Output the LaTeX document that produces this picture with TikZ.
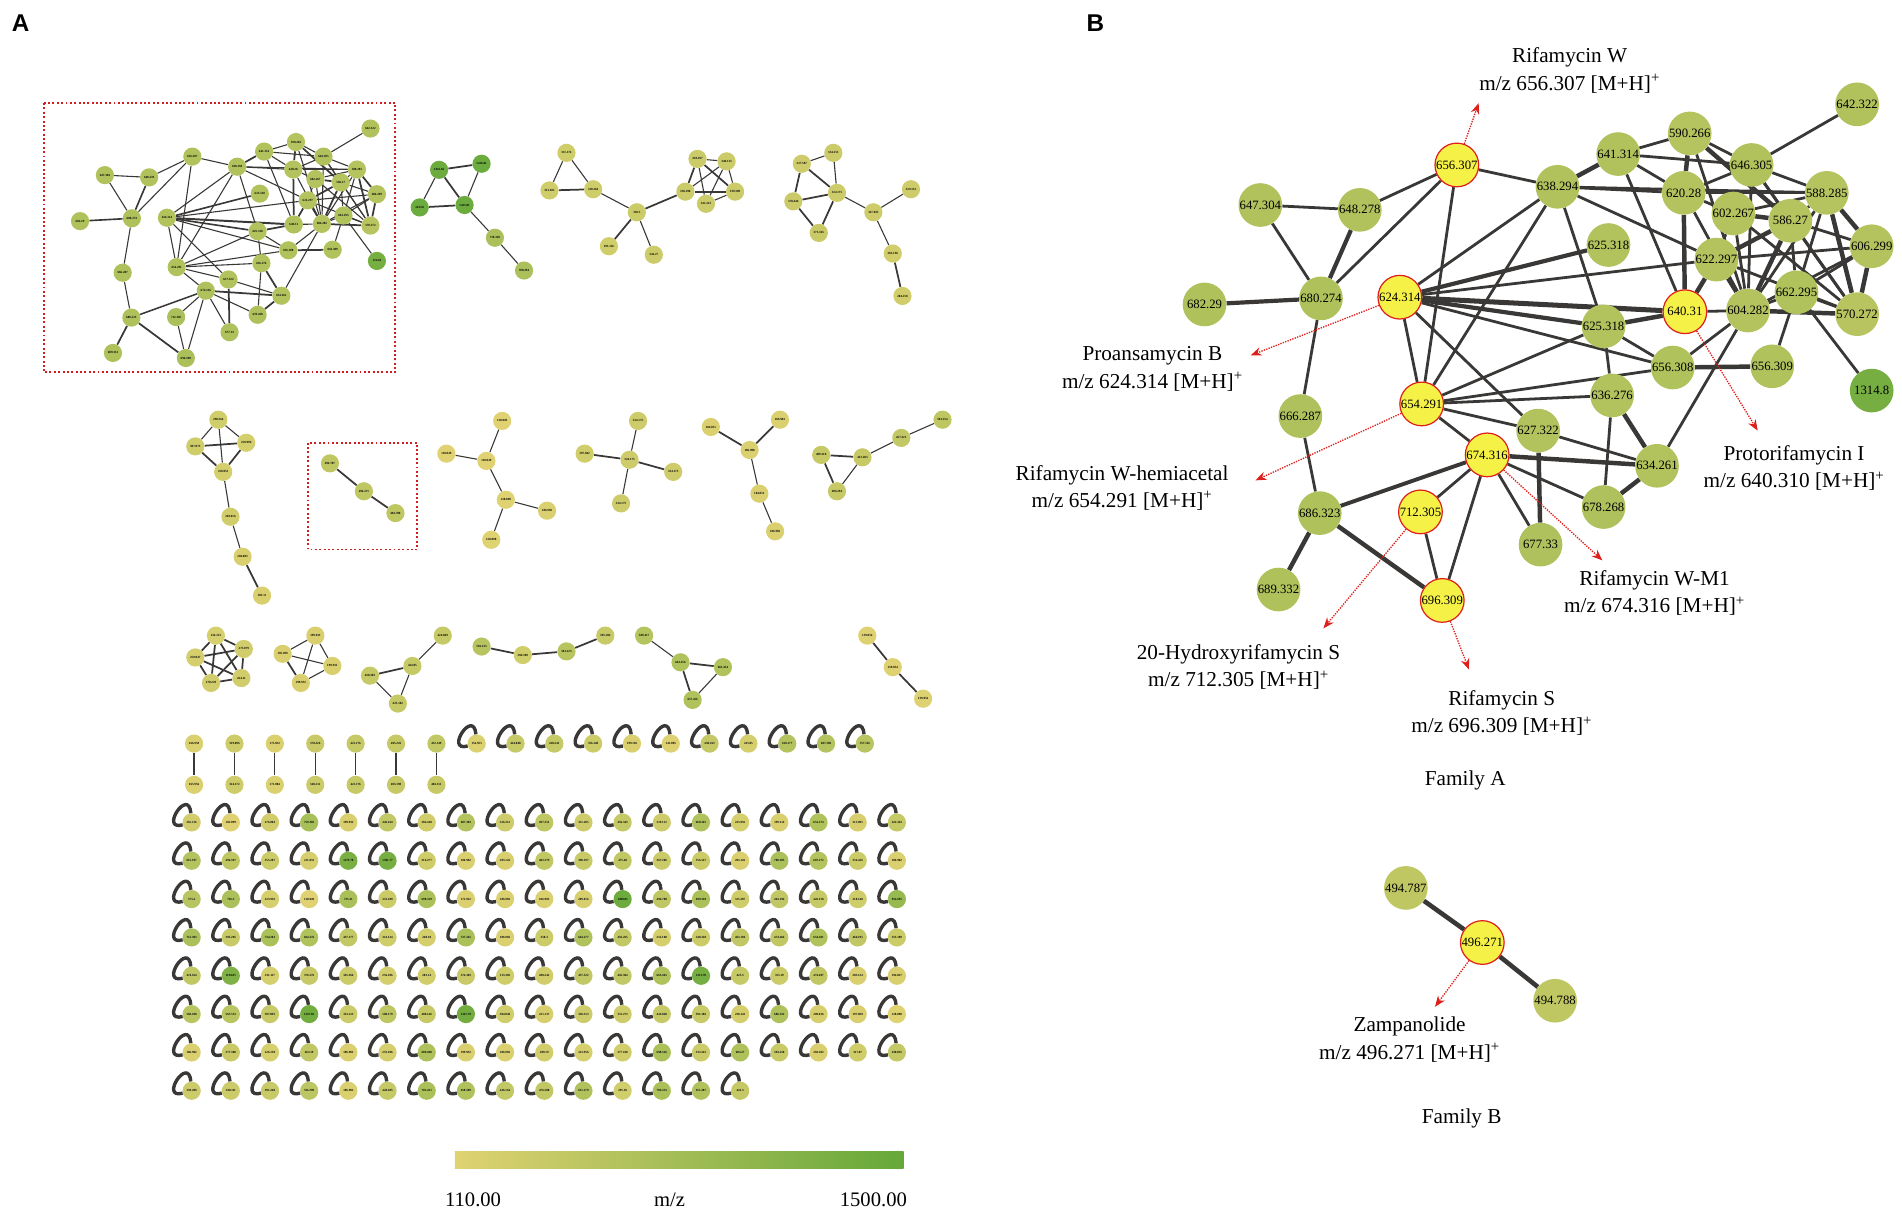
\documentclass[tikz,border=0pt]{standalone}
\usepackage{fontspec}
\setmainfont{Liberation Serif}
\newfontfamily\panelfont{Liberation Sans}
\usetikzlibrary{positioning,arrows.meta}

\definecolor{mzlow}{RGB}{224,210,114}
\definecolor{mzhigh}{RGB}{101,168,58}
\definecolor{hitfill}{RGB}{245,241,70}
\definecolor{hitline}{RGB}{222,32,28}
\definecolor{edgegray}{RGB}{58,56,54}
\definecolor{boxred}{RGB}{208,30,30}

\pgfdeclarelayer{edgelayer}
\pgfsetlayers{edgelayer,main}

\tikzset{
  bignode/.style={circle, minimum size=36pt, inner sep=0pt, font=\fontsize{10.5}{10.5}\selectfont},
  bighit/.style={bignode, fill=hitfill, draw=hitline, line width=1pt},
  tinynode/.style={circle, minimum size=15pt, inner sep=0pt, font=\fontsize{2.6}{3}\selectfont\bfseries},
  pointer/.style={draw=hitline, densely dotted, line width=1.1pt, -{Stealth[length=9pt,width=7pt]}},
  cmpd/.style={align=center, font=\fontsize{17.5}{22.5}\selectfont},
  selfloop/.style={draw=edgegray, line width=2.8pt},
  hilite/.style={draw=boxred, dotted, line width=1.6pt},
  letter/.style={font=\panelfont\bfseries\fontsize{20}{20}\selectfont},
}

% family A: name/x/y/label/hit
\def\famAnodes{m656307/1201/136/656.307/1, m638294/1284/154/638.294/0,
  m641314/1334/127/641.314/0, m590266/1393/110/590.266/0,
  m646305/1444/136/646.305/0, m642322/1531/86/642.322/0,
  m620280/1388/159/620.28/0, m588285/1506/159/588.285/0,
  m602267/1429/176/602.267/0, m586270/1476/182/586.27/0,
  m606299/1543/203/606.299/0, m622297/1415/214/622.297/0,
  m625318/1326/202/625.318/0, m647304/1039/169/647.304/0,
  m648278/1121/173/648.278/0, m682290/993/251/682.29/0,
  m680274/1089/246/680.274/0, m624314/1154/245/624.314/1,
  m640310/1389/257/640.31/1, m604282/1441/256/604.282/0,
  m662295/1481/241/662.295/0, m570272/1531/259/570.272/0,
  m625318b/1322/269/625.318/0, m656308/1379/303/656.308/0,
  m656309/1461/302/656.309/0, m1314/1543/322/1314.8/0,
  m666287/1072/343/666.287/0, m654291/1172/333/654.291/1,
  m636276/1329/326/636.276/0, m627322/1268/355/627.322/0,
  m674316/1226/375/674.316/1, m634261/1366/384/634.261/0,
  m678268/1322/418/678.268/0, m712305/1171/422/712.305/1,
  m686323/1088/423/686.323/0, m677330/1270/449/677.33/0,
  m689332/1054/486/689.332/0, m696309/1189/495/696.309/1}

% family A: from/to/weight
\def\famAedges{m647304/m648278/1, m647304/m680274/1, m648278/m680274/1.5,
  m648278/m656307/1, m656307/m680274/1, m682290/m680274/1.5,
  m680274/m666287/1, m666287/m686323/1, m686323/m689332/1.6,
  m686323/m696309/1.6, m686323/m674316/1.4, m656307/m638294/1,
  m656307/m654291/1, m624314/m638294/1, m624314/m625318/1.5,
  m624314/m622297/1, m624314/m640310/1.8, m624314/m625318b/1.5,
  m624314/m656308/1, m624314/m627322/1, m624314/m654291/1,
  m654291/m638294/1, m654291/m625318b/1, m654291/m656308/1,
  m654291/m636276/1, m654291/m627322/1, m654291/m674316/1,
  m638294/m641314/1.6, m638294/m620280/1, m638294/m588285/1,
  m638294/m622297/1, m638294/m625318b/1, m641314/m590266/1,
  m641314/m646305/1, m641314/m620280/1, m641314/m640310/1,
  m590266/m620280/1.6, m590266/m646305/1, m590266/m586270/1.6,
  m590266/m604282/1, m646305/m642322/1, m646305/m588285/1,
  m646305/m620280/1, m646305/m586270/1, m646305/m604282/1,
  m646305/m570272/1, m620280/m640310/1.6, m620280/m588285/1,
  m620280/m602267/1, m620280/m604282/1, m602267/m586270/1.6,
  m602267/m588285/1, m602267/m622297/1, m602267/m604282/1,
  m602267/m570272/1, m586270/m588285/1, m586270/m622297/1.6,
  m586270/m604282/1.6, m586270/m606299/1, m586270/m570272/1,
  m586270/m662295/1, m588285/m606299/1.6, m588285/m570272/1.6,
  m588285/m604282/1, m588285/m662295/1, m606299/m570272/1.6,
  m606299/m622297/1, m606299/m604282/1, m606299/m662295/1,
  m622297/m640310/1.6, m622297/m604282/1.6, m622297/m570272/1,
  m604282/m640310/1, m604282/m662295/1, m604282/m570272/1.6,
  m604282/m656308/1, m604282/m634261/1, m662295/m570272/1,
  m662295/m656309/1, m662295/m1314/1, m640310/m625318b/1.6,
  m625318b/m656308/1, m625318b/m636276/1, m656308/m656309/1.6,
  m636276/m634261/1.6, m636276/m678268/1, m627322/m634261/1,
  m627322/m677330/1.6, m674316/m634261/1.6, m674316/m678268/1,
  m674316/m677330/1, m674316/m712305/1, m674316/m696309/1,
  m712305/m696309/1, m678268/m634261/1.6}

% other small networks of panel A
\def\smallnodes{g1/362/140/1416.82, g2/397/135/1416.81, g3/346/171/1423.8,
  g4/383/169/1423.81, g5/408/196/718.318, g6/432/223/708.294,
  h1/467/126/311.174, h2/453/157/313.181, h3/489/156/310.264,
  h4/525/175/358.3, h5/502/203/295.126, h6/539/210/344.27,
  h7/565/158/338.298, h8/575/131/338.297, h9/599/133/340.313,
  h10/606/158/339.309, h11/582/168/341.223,
  k1/661/135/327.587, k2/687/126/334.253, k3/690/159/324.175,
  k4/654/166/370.444, k5/675/192/375.365, k6/720/175/327.033,
  k7/751/156/329.132, k8/736/209/283.196, k9/744/244/284.258,
  l1/180/346/298.264, l2/161/368/307.073, l3/203/365/250.996,
  l4/184/389/250.053, l5/190/426/269.016, l6/200/459/204.083,
  l7/216/491/205.11,
  f1/272/382/494.787, f2/300/405/496.271, f3/326/423/494.788,
  o1/414/347/110.049, o2/368/374/110.049, o3/401/380/110.049,
  o4/417/412/128.898, o5/451/421/186.902, o6/405/445/128.898,
  p1/526/347/324.175, p2/482/374/297.042, p3/519/379/324.175,
  p4/555/389/324.175, p5/512/415/324.175,
  q1/586/352/184.051, q2/643/346/186.902, q3/618/371/186.908,
  q4/626/407/184.051, q5/639/438/186.902,
  r1/777/346/501.354, r2/743/361/457.321, r3/711/377/413.283,
  r4/677/375/409.218, r5/690/405/406.294,
  s1/178/524/234.213, s2/201/535/273.079, s3/161/542/259.047,
  s4/199/559/264.11, s5/174/563/270.229,
  t1/260/524/199.933, t2/233/539/195.039, t3/274/549/199.931,
  t4/248/563/199.932,
  u1/365/524/424.049, u2/340/549/424.05, u3/305/557/428.303,
  u4/328/580/425.182,
  v1/397/533/581.223, v2/431/540/304.309, v3/467/537/581.223,
  v4/499/524/395.184,
  w1/531/524/589.417, w2/561/546/663.456, w3/596/550/663.454,
  w4/571/577/657.456,
  z1/715/524/139.054, z2/736/550/139.054, z3/761/576/139.054}

\def\smalledges{g1/g2/1.6, g1/g3/1, g1/g4/1.6, g2/g4/1, g3/g4/1.6, g4/g5/1,
  g5/g6/1, h1/h2/1, h1/h3/1, h2/h3/1.6, h3/h4/1, h4/h5/1.6, h4/h6/1,
  h4/h7/1.6, h7/h8/1.6, h8/h9/1, h8/h11/1, h8/h10/1.6, h9/h7/1, h9/h11/1,
  h9/h10/1, h7/h10/1.6, h11/h10/1,
  k1/k2/1, k1/k4/1.6, k1/k3/1.6, k2/k3/1, k4/k3/1.6, k4/k5/1.6, k5/k3/1.6,
  k3/k6/1, k6/k7/1, k6/k8/1, k8/k9/1.6,
  l1/l2/1, l1/l3/1, l1/l4/1, l2/l3/1.6, l2/l4/1.6, l3/l4/1.6, l4/l5/1,
  l5/l6/1, l6/l7/1.6, f1/f2/1.6, f2/f3/1.6,
  o1/o3/1, o2/o3/1, o3/o4/1, o4/o5/1, o4/o6/1,
  p3/p1/1, p3/p2/1.6, p3/p4/1.6, p3/p5/1,
  q3/q1/1.6, q3/q2/1.6, q3/q4/1, q4/q5/1,
  r1/r2/1, r2/r3/1, r3/r4/1.6, r4/r5/1.6, r3/r5/1,
  s1/s2/1.6, s1/s3/1.6, s1/s4/1.6, s1/s5/1.6, s2/s3/1.6, s2/s4/1.6,
  s2/s5/1.6, s3/s4/1.6, s3/s5/1.6, s4/s5/1.6,
  t1/t2/1, t1/t4/1, t2/t3/1, t2/t4/1.6, t3/t4/1, t1/t3/1,
  u1/u2/1, u2/u3/1.6, u3/u4/1, u2/u4/1,
  v1/v2/1.6, v2/v3/1.6, v3/v4/1.6,
  w1/w2/1, w2/w3/1.6, w2/w4/1.6, w3/w4/1,
  z1/z2/1.6, z2/z3/1.6}

\begin{document}
\begin{tikzpicture}[x=1pt, y=-1pt]
\useasboundingbox (0,0) rectangle (1568,1000.8);

\node[letter] (lettA) at (17,19) {A};
\node[letter] (lettB) at (903,19) {B};

% ---- panel B, family A
\foreach \n/\x/\y/\l/\h in \famAnodes {
  \ifnum\h=1
    \node[bighit] (B\n) at (\x,\y) {\l};
  \else
    \pgfmathtruncatemacro\p{max(0,(\l-110)/13.9)}
    \node[bignode, fill=mzhigh!\p!mzlow] (B\n) at (\x,\y) {\l};
  \fi
}

% ---- panel A, same network, smaller
\begin{scope}[shift={(-375.9,66.2)}, xscale=0.445, yscale=0.4625]
\foreach \n/\x/\y/\l/\h in \famAnodes {
  \pgfmathtruncatemacro\p{max(0,(\l-110)/13.9)}
  \node[tinynode, fill=mzhigh!\p!mzlow] (A\n) at (\x,\y) {\l};
}
\end{scope}

\foreach \n/\x/\y/\l in \smallnodes {
  \pgfmathtruncatemacro\p{max(0,(\l-110)/13.9)}
  \node[tinynode, fill=mzhigh!\p!mzlow] (\n) at (\x,\y) {\l};
}

\begin{pgfonlayer}{edgelayer}
\foreach \ea/\eb/\w in \famAedges {
  \pgfmathsetmacro\lw{\w*2.3}
  \draw[edgegray, line width=\lw pt] (B\ea) -- (B\eb);
  \pgfmathsetmacro\lw{\w*0.9}
  \draw[edgegray, line width=\lw pt] (A\ea) -- (A\eb);
}
\foreach \ea/\eb/\w in \smalledges {
  \pgfmathsetmacro\lw{\w*0.9}
  \draw[edgegray, line width=\lw pt] (\ea) -- (\eb);
}
\end{pgfonlayer}

% pairs
\foreach \ua/\ub [count=\i from 0] in {166.958/165.956, 319.096/324.172,
  175.032/171.084, 378.226/340.211, 421.176/421.176, 405.226/403.198,
  452.149/404.151} {
  \pgfmathsetmacro\px{160+33.3*\i}
  \pgfmathtruncatemacro\p{max(0,(\ua-110)/13.9)}
  \pgfmathtruncatemacro\q{max(0,(\ub-110)/13.9)}
  \node[tinynode, fill=mzhigh!\p!mzlow] (pt\i) at (\px,613) {\ua};
  \node[tinynode, fill=mzhigh!\q!mzlow] (pb\i) at (\px,647) {\ub};
  \draw[edgegray, line width=1pt] (pt\i) -- (pb\i);
}

% single nodes with self loops
\foreach \l [count=\i from 0] in {154.955, 424.048, 420.241, 356.148,
  199.118, 141.005, 430.163, 245.05, 610.177, 607.306, 557.516} {
  \pgfmathsetmacro\px{393+32*\i}
  \pgfmathtruncatemacro\p{max(0,(\l-110)/13.9)}
  \node[tinynode, fill=mzhigh!\p!mzlow] (st\i) at (\px,613) {\l};
  \draw[selfloop] (st\i.95) .. controls +(95:22pt) and +(195:20pt) .. (st\i.195);
}

\foreach \row [count=\ri from 0] in {
  {265.126, 102.099, 276.004, 759.303, 199.932, 446.164, 284.248, 607.303, 326.312, 497.251, 331.205, 436.343, 319.121, 660.365, 223.956, 199.114, 652.274, 213.095, 422.343},
  {615.197, 494.397, 355.207, 211.033, 1279.78, 1301.77, 316.277, 186.902, 203.126, 482.379, 398.197, 475.48, 367.206, 356.147, 203.126, 708.305, 607.272, 356.426, 186.902},
  {575.4, 716.3, 223.956, 110.049, 725.31, 353.189, 698.319, 172.922, 186.902, 186.902, 209.016, 1408.85, 494.788, 699.328, 315.207, 463.194, 426.158, 318.148, 954.695},
  {712.303, 395.205, 734.201, 664.276, 457.177, 314.134, 240.18, 727.241, 186.902, 358.3, 664.277, 456.265, 252.108, 348.328, 463.194, 474.466, 654.201, 466.195, 353.189},
  {474.164, 1194.85, 231.117, 376.576, 345.366, 256.106, 283.14, 374.303, 313.302, 288.242, 457.322, 445.304, 665.465, 1311.78, 425.3, 353.19, 474.287, 203.124, 194.027},
  {568.188, 565.553, 397.093, 1347.82, 333.213, 508.179, 408.146, 1347.79, 304.048, 221.137, 320.313, 331.273, 424.048, 391.186, 238.143, 686.322, 209.016, 197.069, 128.898},
  {186.902, 377.308, 226.138, 463.19, 186.902, 253.106, 689.288, 199.932, 186.902, 289.19, 223.956, 277.168, 698.316, 333.242, 683.27, 394.258, 202.202, 317.07, 430.855},
  {339.209, 340.111, 391.248, 526.399, 186.902, 428.285, 701.261, 658.509, 446.164, 476.288, 651.279, 295.18, 704.333, 651.287, 441.3}} {
  \foreach \l [count=\ci from 0] in \row {
    \pgfmathsetmacro\px{158+32.3*\ci}
    \pgfmathsetmacro\py{678+31.6*\ri}
    \pgfmathtruncatemacro\p{max(0,(\l-110)/13.9)}
    \node[tinynode, fill=mzhigh!\p!mzlow] (sl\ri x\ci) at (\px,\py) {\l};
    \draw[selfloop] (sl\ri x\ci.95) .. controls +(95:22pt) and +(195:20pt) .. (sl\ri x\ci.195);
  }
}

% highlight boxes
\draw[hilite] (36,85) rectangle (326,307);
\draw[hilite] (254,365) rectangle (344,453);

% colour bar
\shade[left color=mzlow, right color=mzhigh] (375,949) rectangle (745,963);
\node[font=\fontsize{17}{17}\selectfont] (cbLow) at (390,989) {110.00};
\node[font=\fontsize{17}{17}\selectfont] (cbMid) at (552,989) {m/z};
\node[font=\fontsize{17}{17}\selectfont] (cbHigh) at (720,989) {1500.00};

% ---- panel B, family B
\node[bignode, fill=mzhigh!27!mzlow] (fb1) at (1159,732) {494.787};
\node[bighit] (fb2) at (1222,777) {496.271};
\node[bignode, fill=mzhigh!27!mzlow] (fb3) at (1282,825) {494.788};
\begin{pgfonlayer}{edgelayer}
\draw[edgegray, line width=3.8pt] (fb1) -- (fb2);
\draw[edgegray, line width=3.8pt] (fb2) -- (fb3);
\end{pgfonlayer}

% compound names
\node[cmpd] (nmW) at (1294,58) {Rifamycin W\\m/z 656.307 [M+H]\textsuperscript{+}};
\node[cmpd] (nmPB) at (950,304) {Proansamycin B\\m/z 624.314 [M+H]\textsuperscript{+}};
\node[cmpd] (nmWH) at (925,402) {Rifamycin W-hemiacetal\\m/z 654.291 [M+H]\textsuperscript{+}};
\node[cmpd] (nmPI) at (1479,386) {Protorifamycin I\\m/z 640.310 [M+H]\textsuperscript{+}};
\node[cmpd] (nmM1) at (1364,489) {Rifamycin W-M1\\m/z 674.316 [M+H]\textsuperscript{+}};
\node[cmpd] (nmHS) at (1021,550) {20-Hydroxyrifamycin S\\m/z 712.305 [M+H]\textsuperscript{+}};
\node[cmpd] (nmS) at (1238,588) {Rifamycin S\\m/z 696.309 [M+H]\textsuperscript{+}};
\node[cmpd] (famA) at (1208,643) {Family A};
\node[cmpd] (nmZ) at (1162,857) {Zampanolide\\m/z 496.271 [M+H]\textsuperscript{+}};
\node[cmpd] (famB) at (1205,922) {Family B};

\coordinate (tipW) at (1219,85);
\coordinate (tipPB) at (1031,293);
\coordinate (tipWH) at (1035,396);
\coordinate (tipPI) at (1449,355);
\coordinate (tipM1) at (1321,462);
\coordinate (tipHS) at (1091,518);
\coordinate (tipS) at (1211,552);
\coordinate (tipZ) at (1183,830);
\draw[pointer] (Bm656307) -- (tipW);
\draw[pointer] (Bm624314) -- (tipPB);
\draw[pointer] (Bm654291) -- (tipWH);
\draw[pointer] (Bm640310) -- (tipPI);
\draw[pointer] (Bm674316) -- (tipM1);
\draw[pointer] (Bm712305) -- (tipHS);
\draw[pointer] (Bm696309) -- (tipS);
\draw[pointer] (fb2) -- (tipZ);
\end{tikzpicture}
\end{document}
